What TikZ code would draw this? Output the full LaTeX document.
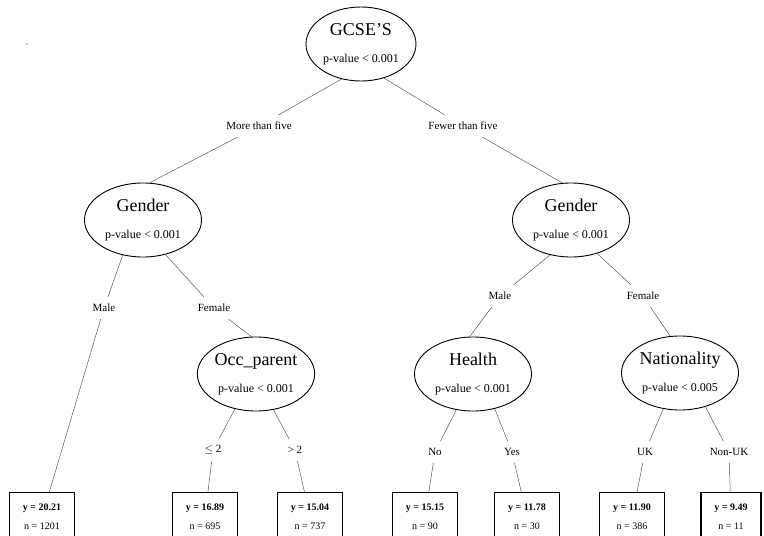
\documentclass[tikz,border=0pt]{standalone}
\usepackage{fontspec}
\setmainfont{Liberation Serif}
\usetikzlibrary{shapes}
\tikzset{
  split/.style={draw, line width=0.9pt, ellipse, inner sep=0pt, minimum width=117pt, minimum height=74pt, align=center, font=\fontsize{12}{27}\selectfont},
  leaf/.style={draw, line width=1.1pt, rectangle, anchor=north, minimum width=65pt, minimum height=48pt, inner sep=0pt, align=center, font=\fontsize{10}{19}\selectfont},
  branch/.style={inner sep=7pt, font=\fontsize{11}{13}\selectfont},
  link/.style={draw=black!65, line width=0.5pt}
}
\newcommand{\vname}[1]{{\fontsize{18}{27}\selectfont #1}}

\begin{document}
\begin{tikzpicture}[x=1pt,y=-1pt]
      \useasboundingbox (0,0) rectangle (764,536);
      \node[font=\fontsize{8}{8}\selectfont] (tick) at (27,47) {\textasciigrave};
      \node[split, minimum width=110pt] (root) at (361,44) {\vname{GCSE'S}\\p-value < 0.001};
      \node[split] (gl) at (143,220) {\vname{Gender}\\p-value < 0.001};
      \node[split] (gr) at (571,220) {\vname{Gender}\\p-value < 0.001};
      \node[split] (occ) at (256,374) {\vname{Occ\_parent}\\p-value < 0.001};
      \node[split] (hl) at (473,374) {\vname{Health}\\p-value < 0.001};
      \node[split] (nat) at (680,373) {\vname{Nationality}\\p-value < 0.005};
      \node[branch] (more) at (259,126) {More than five};
      \node[branch] (fewer) at (463,126) {Fewer than five};
      \node[branch] (ml) at (104,308) {Male};
      \node[branch] (fl) at (214,308) {Female};
      \node[branch] (mr) at (500,296) {Male};
      \node[branch] (fr) at (643,296) {Female};
      \node[branch] (le) at (213,450) {$\leq$ 2};
      \node[branch] (gt) at (295,450) {> 2};
      \node[branch] (no) at (435,452) {No};
      \node[branch] (yes) at (512,452) {Yes};
      \node[branch] (uk) at (645,452) {UK};
      \node[branch] (nonuk) at (729,452) {Non-UK};
      \node[leaf] (b1) at (42,492) {\textbf{y = 20.21}\\n = 1201};
      \node[leaf] (b2) at (205,492) {\textbf{y = 16.89}\\n = 695};
      \node[leaf] (b3) at (310,492) {\textbf{y = 15.04}\\n = 737};
      \node[leaf] (b4) at (425,492) {\textbf{y = 15.15}\\n = 90};
      \node[leaf] (b5) at (527,492) {\textbf{y = 11.78}\\n = 30};
      \node[leaf] (b6) at (632,492) {\textbf{y = 11.90}\\n = 386};
      \node[leaf, minimum width=60pt] (b7) at (731,492) {\textbf{y = 9.49}\\n = 11};
      \draw[link] (root.241) -- (more);
      \draw[link] (more) -- (gl.80);
      \draw[link] (root.304) -- (fewer);
      \draw[link] (fewer) -- (gr.103);
      \draw[link] (gl.240) -- (ml);
      \draw[link] (ml) -- (b1);
      \draw[link] (gl.303) -- (fl);
      \draw[link] (fl) -- (occ.97);
      \draw[link] (occ.239) -- (le);
      \draw[link] (le) -- (b2);
      \draw[link] (occ.296) -- (gt);
      \draw[link] (gt) -- (b3);
      \draw[link] (gr.239) -- (mr);
      \draw[link] (mr) -- (hl.95);
      \draw[link] (gr.308) -- (fr);
      \draw[link] (fr) -- (nat.105);
      \draw[link] (hl.245) -- (no);
      \draw[link] (no) -- (b4);
      \draw[link] (hl.302) -- (yes);
      \draw[link] (yes) -- (b5);
      \draw[link] (nat.245) -- (uk);
      \draw[link] (uk) -- (b6);
      \draw[link] (nat.307) -- (nonuk);
      \draw[link] (nonuk) -- (b7);
    \end{tikzpicture}
\end{document}
